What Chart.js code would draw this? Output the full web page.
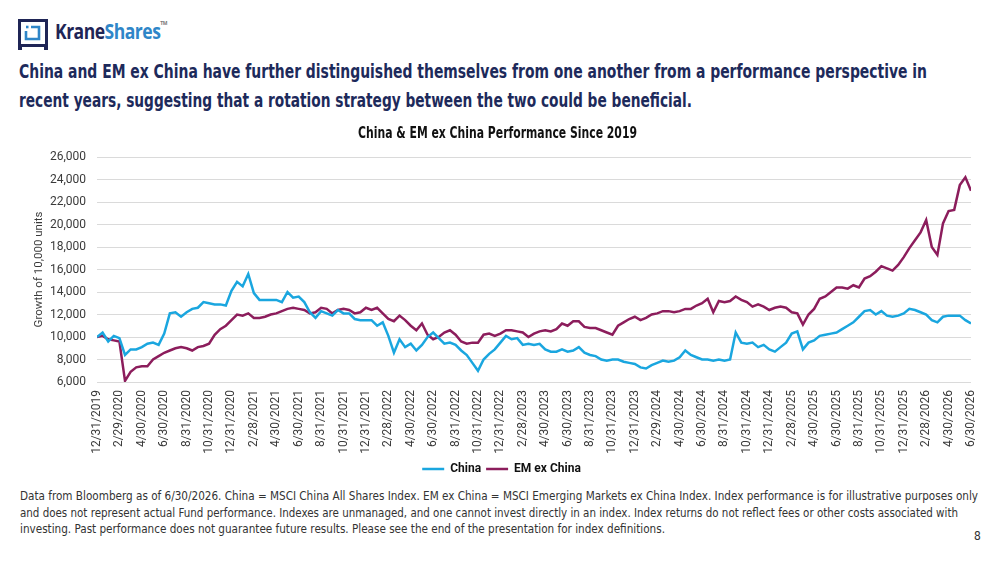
<!DOCTYPE html>
<html>
<head>
<meta charset="utf-8">
<script src="https://cdn.jsdelivr.net/npm/chart.js@4.4.1/dist/chart.umd.min.js"></script>
<style>
	body { margin: 0; width: 1000px; height: 563px; background: #fff; position: relative; overflow: hidden; font-family: Roboto, sans-serif; }
	.logo { position: absolute; left: 18px; top: 19px; }
	.brand { position: absolute; left: 55px; top: 17px; font: 700 21px "Open Sans", sans-serif; letter-spacing: -0.6px; white-space: nowrap; transform-origin: left center; }
	.brand .k { color: #1f2556; }
	.brand .s { color: #2f86c8; }
	.brand sup { font-size: 6px; color: #777; vertical-align: 14px; }
	.head { position: absolute; left: 19px; font: 700 19px "Liberation Sans Narrow", "DejaVu Sans Condensed", Roboto, sans-serif; color: #1d2a5b; white-space: nowrap; transform-origin: left center; }
	.ctitle { position: absolute; left: 358px; top: 124px; font: 700 15px "Liberation Sans Narrow", "DejaVu Sans Condensed", Roboto, sans-serif; color: #111; white-space: nowrap; transform-origin: left center; }
	#wrap { position: absolute; left: 0; top: 115px; width: 1000px; }
	.note { position: absolute; left: 20px; font: 12px "Liberation Sans Narrow", "DejaVu Sans Condensed", Roboto, sans-serif; color: #333; white-space: nowrap; transform-origin: left center; }
	.page { position: absolute; left: 974px; top: 529px; font: 12px Roboto, sans-serif; color: #333; }
</style>
</head>
<body>
<svg class="logo" width="30" height="31" viewBox="0 0 30 31">
	<rect x="1.5" y="1.5" width="27" height="25" fill="none" stroke="#1f2556" stroke-width="3"/>
	<rect x="0" y="26" width="4" height="5" fill="#1f2556"/>
	<rect x="26" y="26" width="4" height="5" fill="#1f2556"/>
	<path d="M8 12 V20 H21 V8 H13" fill="none" stroke="#2f86c8" stroke-width="2.6"/>
	<path d="M8 8 H10.5" fill="none" stroke="#2f86c8" stroke-width="2.6"/>
</svg>
<div class="brand fit" data-w="112"><span class="k">Krane</span><span class="s">Shares</span><sup>TM</sup></div>

<div class="head fit" data-w="908" style="top:60px">China and EM ex China have further distinguished themselves from one another from a performance perspective in</div>
<div class="head fit" data-w="673" style="top:89px">recent years, suggesting that a rotation strategy between the two could be beneficial.</div>

<div id="wrap"><canvas id="chart" width="1000" height="370"></canvas></div>
<div class="ctitle fit" data-w="279">China &amp; EM ex China Performance Since 2019</div>

<div class="note fit" data-w="958" style="top:489px">Data from Bloomberg as of 6/30/2026. China = MSCI China All Shares Index. EM ex China = MSCI Emerging Markets ex China Index. Index performance is for illustrative purposes only</div>
<div class="note fit" data-w="938" style="top:506px">and does not represent actual Fund performance. Indexes are unmanaged, and one cannot invest directly in an index. Index returns do not reflect fees or other costs associated with</div>
<div class="note fit" data-w="645" style="top:522px">investing. Past performance does not guarantee future results. Please see the end of the presentation for index definitions.</div>
<div class="page">8</div>

<script>
// x tick labels, one every 2 months
var tickLabels = [
	'12/31/2019', '2/29/2020', '4/30/2020', '6/30/2020', '8/31/2020', '10/31/2020', '12/31/2020',
	'2/28/2021', '4/30/2021', '6/30/2021', '8/31/2021', '10/31/2021', '12/31/2021',
	'2/28/2022', '4/30/2022', '6/30/2022', '8/31/2022', '10/31/2022', '12/31/2022',
	'2/28/2023', '4/30/2023', '6/30/2023', '8/31/2023', '10/31/2023', '12/31/2023',
	'2/29/2024', '4/30/2024', '6/30/2024', '8/31/2024', '10/31/2024', '12/31/2024',
	'2/28/2025', '4/30/2025', '6/30/2025', '8/31/2025', '10/31/2025', '12/31/2025',
	'2/28/2026', '4/30/2026', '6/30/2026'
];

// readings every half month, starting 12/31/2019
var STEP = 0.5;

var chinaVals = [
	10000, 10400, 9600, 10100, 9900, 8400, 8900, 8900, 9100, 9400, 9500, 9300,
	10300, 12100, 12200, 11800, 12200, 12500, 12600, 13100, 13000, 12900, 12900, 12800,
	14100, 14900, 14500, 15600, 13900, 13300, 13300, 13300, 13300, 13100, 14000, 13500,
	13600, 13100, 12200, 11700, 12300, 12100, 11900, 12400, 12100, 12100, 11600, 11500,
	11500, 11500, 11000, 11300, 10100, 8600, 9800, 9100, 9400, 8800, 9300, 10000,
	10400, 9900, 9400, 9500, 9300, 8800, 8400, 7700, 7000, 8000, 8500, 8900,
	9500, 10100, 9800, 9900, 9300, 9400, 9300, 9400, 8900, 8700, 8700, 8900,
	8700, 8800, 9100, 8600, 8400, 8300, 8000, 7900, 8000, 8000, 7800, 7700,
	7600, 7300, 7200, 7500, 7700, 7900, 7800, 7900, 8200, 8800, 8400, 8200,
	8000, 8000, 7900, 8000, 7900, 8000, 10400, 9500, 9400, 9500, 9100, 9300,
	8900, 8700, 9100, 9500, 10300, 10500, 8900, 9500, 9700, 10100, 10200, 10300,
	10400, 10700, 11000, 11300, 11800, 12300, 12400, 12000, 12300, 11900, 11800, 11900,
	12100, 12500, 12400, 12200, 12000, 11500, 11300, 11800, 11900, 11900, 11900, 11500,
	11200
];

var emVals = [
	10000, 10100, 9800, 9700, 9600, 6100, 6900, 7300, 7400, 7400, 8000, 8300,
	8600, 8800, 9000, 9100, 9000, 8800, 9100, 9200, 9400, 10200, 10700, 11000,
	11500, 12000, 11900, 12100, 11700, 11700, 11800, 12000, 12100, 12300, 12500, 12600,
	12500, 12400, 12100, 12200, 12600, 12500, 12100, 12400, 12500, 12400, 12100, 12200,
	12600, 12400, 12600, 12100, 11600, 11400, 11900, 11500, 11000, 10600, 11200, 10200,
	9800, 10000, 10400, 10600, 10200, 9600, 9400, 9500, 9500, 10200, 10300, 10100,
	10300, 10600, 10600, 10500, 10400, 10000, 10300, 10500, 10600, 10500, 10700, 11200,
	11000, 11400, 11400, 10900, 10800, 10800, 10600, 10400, 10200, 11000, 11300, 11600,
	11800, 11500, 11700, 12000, 12100, 12300, 12300, 12200, 12300, 12500, 12500, 12800,
	13000, 13400, 12200, 13200, 13100, 13200, 13600, 13300, 13100, 12700, 12900, 12700,
	12400, 12600, 12700, 12600, 12200, 12100, 11100, 12000, 12500, 13400, 13600, 14000,
	14400, 14400, 14300, 14600, 14400, 15200, 15400, 15800, 16300, 16100, 15900, 16400,
	17100, 17900, 18600, 19300, 20400, 18000, 17300, 20100, 21200, 21300, 23500, 24200,
	23000
];

var BLUE = '#1aa6df';
var PLUM = '#8c1d5c';
var INK = '#3a3a3a';

function toPoints(vals) {
	return vals.map(function(v, i) { return { x: i * STEP, y: v }; });
}

// squeeze/stretch text lines to the widths seen in the slide
document.querySelectorAll('.fit').forEach(function(el) {
	var w = el.getBoundingClientRect().width;
	el.style.transform = 'scaleX(' + (parseFloat(el.dataset.w) / w) + ')';
});

Chart.defaults.font.family = 'Roboto, sans-serif';
Chart.defaults.font.size = 12;
Chart.defaults.color = INK;

new Chart(document.getElementById('chart'), {
	type: 'line',
	data: {
		datasets: [{
			label: 'China',
			data: toPoints(chinaVals),
			borderColor: BLUE,
			backgroundColor: BLUE,
			borderWidth: 2.5,
			pointRadius: 0,
			tension: 0
		}, {
			label: 'EM ex China',
			data: toPoints(emVals),
			borderColor: PLUM,
			backgroundColor: PLUM,
			borderWidth: 2.5,
			pointRadius: 0,
			tension: 0
		}]
	},
	options: {
		responsive: false,
		animation: false,
		layout: { padding: { left: 32, right: 29, top: 42, bottom: 0 } },
		scales: {
			x: {
				type: 'linear',
				min: 0,
				max: (tickLabels.length - 1) * 2,
				grid: { display: false, drawTicks: false },
				border: { display: false },
				afterFit: function(s) { s.height = 76; },
				ticks: {
					stepSize: 2,
					autoSkip: false,
					maxRotation: 90,
					minRotation: 90,
					padding: 8,
					color: INK,
					callback: function(v) { return tickLabels[v / 2]; }
				}
			},
			y: {
				min: 6000,
				max: 26000,
				afterFit: function(s) { s.width = 65; },
				grid: { color: '#dadada', drawTicks: false, lineWidth: 1 },
				border: { display: false },
				ticks: {
					stepSize: 2000,
					padding: 11,
					color: INK,
					callback: function(v) { return v.toLocaleString('en-US'); }
				},
				title: {
					display: true,
					text: 'Growth of 10,000 units',
					color: INK,
					font: { size: 11.5 },
					padding: { top: 0, bottom: 2 }
				}
			}
		},
		plugins: {
			title: { display: false },
			legend: {
				position: 'bottom',
				labels: {
					usePointStyle: true,
					pointStyle: 'line',
					pointStyleWidth: 22,
					color: '#111',
					font: { size: 12, weight: 'bold' },
					padding: 5
				}
			},
			tooltip: { enabled: false }
		}
	}
});
</script>
</body>
</html>
